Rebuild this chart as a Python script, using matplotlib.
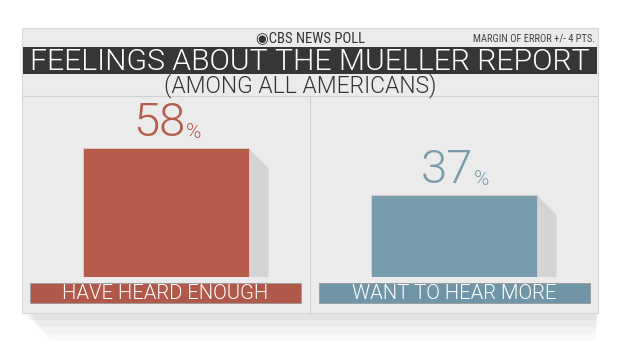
import matplotlib
matplotlib.use("Agg")
import matplotlib.pyplot as plt
from matplotlib.patches import Rectangle, Polygon

categories = ["HAVE HEARD ENOUGH", "WANT TO HEAR MORE"]
values = [58, 37]
colors = ["#b55c4b", "#789cad"]
label_colors = ["#b0584a", "#6f95a6"]
title = "FEELINGS ABOUT THE MUELLER REPORT"
subtitle = "(AMONG ALL AMERICANS)"
header = "CBS NEWS POLL"
margin_note = "MARGIN OF ERROR +/- 4 PTS."

W, H = 620, 349
fig = plt.figure(figsize=(W / 100, H / 100), dpi=100)
fig.patch.set_facecolor("white")

bg = fig.add_axes([0, 0, 1, 1])
bg.set_xlim(0, W)
bg.set_ylim(H, 0)
bg.axis("off")

FONT = "Roboto"
COND = ["Roboto Condensed", "DejaVu Sans Condensed", "DejaVu Sans"]

# panel shadow (bottom-left)
for i, a in enumerate([0.05, 0.06, 0.08, 0.10]):
    d = 7 * (4 - i)
    bg.add_patch(Polygon([(22, 300), (598, 300), (596, 313 + d),
                          (22 + d, 313 + d)],
                         closed=True, facecolor="#9a9a9a", alpha=a, lw=0, zorder=0))
# panel
bg.add_patch(Rectangle((22, 28), 576, 285, facecolor="#ebebeb",
                       edgecolor="#d8d8d8", lw=0.8, zorder=1))
# title bar
bg.add_patch(Rectangle((23, 47), 574, 27, facecolor="#363636", lw=0, zorder=2))
bg.plot([23, 597], [96, 96], color="#d0d0d0", lw=0.8, zorder=2)
bg.plot([310, 310], [96, 313], color="#d0d0d0", lw=0.8, zorder=2)

bg.text(310, 38, "\u25c9" + header, ha="center", va="center", fontsize=10.5,
        color="#333333", family=COND, zorder=3)
bg.text(595, 38, margin_note, ha="right", va="center", fontsize=7.6,
        color="#444444", family=COND, zorder=3)
bg.text(310, 61.5, title, ha="center", va="center", fontsize=21.7,
        color="white", family=FONT, fontweight=300, zorder=3)
bg.text(300, 86, subtitle, ha="center", va="center", fontsize=16.5,
        color="#333333", family=FONT, fontweight=300, zorder=3)

px_per_pct = 129 / 58.0
top_val = (277 - 96) / px_per_pct
ax = fig.add_axes([22 / W, 1 - 277 / H, 576 / W, (277 - 96) / H])
ax.set_xlim(0, 2)
ax.set_ylim(0, top_val)
ax.axis("off")
ax.patch.set_alpha(0)

xs = [0.5, 1.5]
width = 0.573
sx = 20 / 288.0
sy = 20 / px_per_pct
for x, v in zip(xs, values):
    r = x + width / 2
    ax.add_patch(Polygon([(r, v), (r + sx, v - sy), (r + sx, 0), (r, 0)],
                         closed=True, facecolor="#d4d4d4", lw=0, zorder=1))
ax.bar(xs, values, width=width, color=colors, edgecolor="#e0cfcc", lw=0.6, zorder=2)

for x, v, c in zip(xs, values, colors):
    ax.annotate(str(v), (x, v), xytext=(-5, 2), textcoords="offset points",
                ha="center", va="bottom", fontsize=34, color=c,
                family=FONT, fontweight=300)
    ax.annotate("%", (x, v), xytext=(20, 4), textcoords="offset points",
                ha="center", va="bottom", fontsize=15, color=c,
                family=FONT, fontweight=300)

lab_x = [30, 319]
for lx, lc, cat in zip(lab_x, label_colors, categories):
    bg.add_patch(Rectangle((lx, 283), 271, 20, facecolor=lc,
                           edgecolor="#9a9a9a", lw=0.6, zorder=3))
    bg.text(lx + 135.5, 293.5, cat, ha="center", va="center", fontsize=14.6,
            color="white", family=FONT, fontweight=300, zorder=4)

fig.savefig("out.png", dpi=100, facecolor="white")
